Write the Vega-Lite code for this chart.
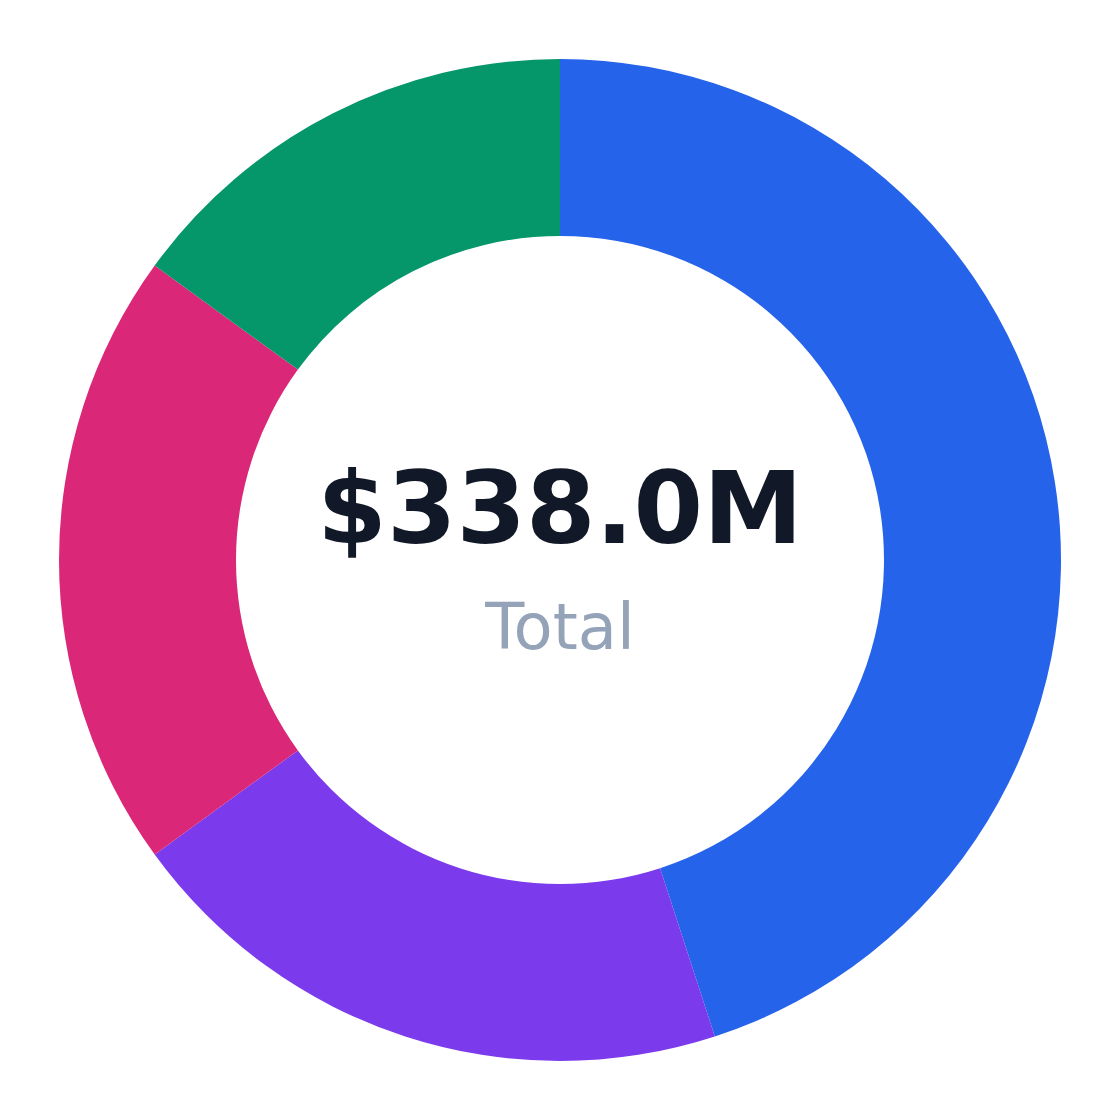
{
  "$schema": "https://vega.github.io/schema/vega-lite/v6.json",
  "width": 1120,
  "height": 1120,
  "padding": 0,
  "autosize": {"type": "fit", "contains": "padding"},
  "background": "#ffffff",
  "config": {"view": {"stroke": null}, "font": "DejaVu Sans"},
  "layer": [
    {
      "data": {
        "values": [
          {"segment": "Segment A", "rank": 1, "amount": 152.1},
          {"segment": "Segment B", "rank": 2, "amount": 67.6},
          {"segment": "Segment C", "rank": 3, "amount": 67.6},
          {"segment": "Segment D", "rank": 4, "amount": 50.7}
        ]
      },
      "mark": {"type": "arc", "outerRadius": 501, "innerRadius": 324},
      "encoding": {
        "theta": {"field": "amount", "type": "quantitative", "stack": true},
        "order": {"field": "rank", "type": "quantitative"},
        "color": {
          "field": "segment",
          "type": "nominal",
          "legend": null,
          "scale": {
            "domain": ["Segment A", "Segment B", "Segment C", "Segment D"],
            "range": ["#2563eb", "#7c3aed", "#db2777", "#059669"]
          }
        },
        "tooltip": [
          {"field": "segment", "type": "nominal"},
          {"field": "amount", "type": "quantitative"}
        ]
      }
    },
    {
      "data": {"values": [{"label": "$338.0M"}]},
      "mark": {
        "type": "text",
        "baseline": "alphabetic",
        "align": "center",
        "fontSize": 100,
        "fontWeight": "bold",
        "color": "#111827",
        "dy": -17
      },
      "encoding": {"text": {"field": "label", "type": "nominal"}}
    },
    {
      "data": {"values": [{"label": "Total"}]},
      "mark": {
        "type": "text",
        "baseline": "alphabetic",
        "align": "center",
        "fontSize": 64,
        "color": "#94a3b8",
        "dy": 89
      },
      "encoding": {"text": {"field": "label", "type": "nominal"}}
    }
  ]
}
